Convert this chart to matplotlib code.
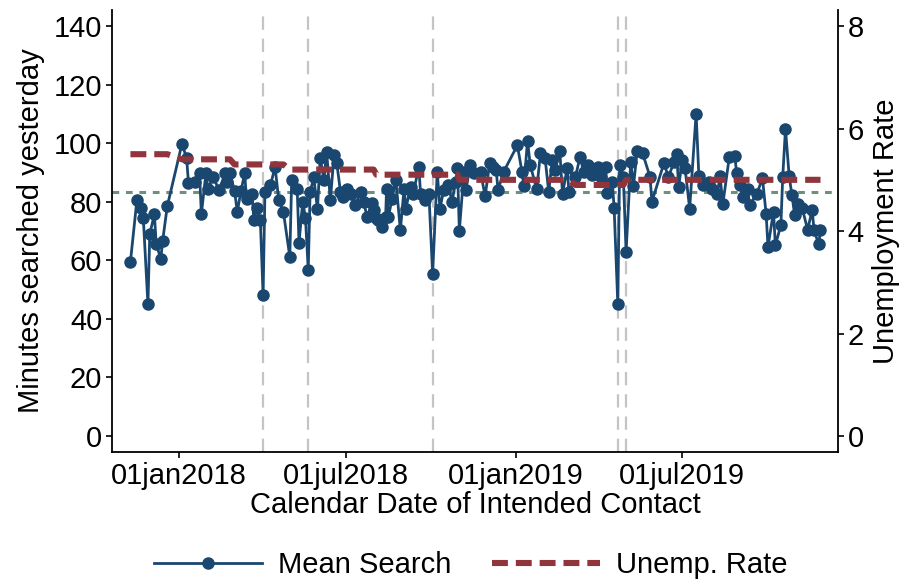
import matplotlib
matplotlib.use("Agg")
import matplotlib.pyplot as plt
import pandas as pd
import numpy as np
from matplotlib.lines import Line2D

plt.rcParams['font.family'] = ['Liberation Sans', 'DejaVu Sans']

# ---- data ----
# days since 01jan2018 of each intended-contact date
search_days = [-53, -46, -42, -39, -34, -32, -27, -25, -20, -18, -13, 3, 8, 10, 17, 22, 24, 29, 31, 37,
               43, 50, 52, 55, 60, 63, 67, 71, 73, 79, 81, 84, 88, 91, 93, 99, 104, 108, 113, 120,
               122, 128, 130, 134, 137, 140, 142, 146, 150, 153, 157, 160, 164, 168, 171, 175, 178, 182, 186, 191,
               197, 200, 204, 209, 211, 214, 216, 220, 224, 225, 227, 231, 235, 240, 244, 246, 251, 254, 260, 262,
               267, 271, 275, 280, 283, 287, 292, 296, 300, 302, 304, 309, 311, 316, 320, 327, 332, 337, 341, 344,
               346, 352, 367, 372, 374, 378, 381, 388, 392, 397, 401, 405, 408, 413, 416, 421, 423, 430, 435, 439,
               444, 448, 454, 458, 463, 464, 470, 472, 476, 478, 482, 485, 490, 493, 497, 503, 511, 513, 526, 531,
               537, 540, 542, 546, 549, 554, 561, 564, 568, 575, 578, 584, 587, 590, 597, 603, 605, 609, 612, 617,
               619, 627, 633, 637, 639, 645, 647, 653, 655, 658, 662, 665, 668, 672, 676, 682, 687, 689, 694, 696]
mean_search = [59.5, 80.5, 78.0, 74.3, 45.0, 69.0, 75.7, 65.5, 60.6, 66.7, 78.5, 99.9, 94.8, 86.5, 86.8, 89.9, 75.8, 89.9, 84.5, 88.5,
               84.0, 89.7, 86.8, 89.7, 83.7, 76.6, 83.7, 89.7, 80.9, 82.8, 73.7, 78.0, 73.7, 48.1, 83.4, 85.7, 91.9, 80.5, 76.6, 61.2,
               87.4, 84.5, 66.0, 80.0, 74.4, 56.7, 83.2, 88.3, 77.4, 95.1, 87.4, 97.0, 80.5, 95.9, 93.1, 83.4, 81.5, 84.5, 82.6, 78.8,
               83.4, 80.0, 74.8, 79.6, 77.1, 74.3, 73.7, 71.4, 74.8, 84.5, 74.8, 81.1, 87.6, 70.3, 84.5, 77.7, 85.1, 82.8, 91.9, 82.6,
               80.5, 82.6, 55.3, 90.2, 77.7, 84.0, 85.7, 80.0, 86.8, 91.4, 70.1, 90.2, 84.0, 92.5, 89.7, 90.2, 81.9, 93.3, 91.9, 90.8,
               84.0, 90.2, 99.3, 90.2, 85.3, 100.8, 92.5, 84.2, 96.5, 95.1, 83.4, 94.4, 90.8, 97.4, 82.8, 91.4, 83.4, 88.5, 95.3, 90.2,
               92.5, 89.1, 91.9, 88.3, 91.9, 83.0, 86.8, 78.0, 45.0, 92.4, 88.5, 62.9, 93.6, 85.3, 97.4, 96.5, 88.5, 80.0, 93.1, 88.5,
               93.6, 96.2, 85.1, 94.2, 91.4, 77.7, 110.1, 88.7, 85.7, 86.8, 84.5, 82.8, 88.7, 79.2, 95.3, 95.6, 89.7, 85.7, 81.5, 84.5,
               78.8, 82.8, 88.0, 75.8, 64.6, 76.6, 65.2, 72.0, 88.5, 104.9, 88.7, 82.3, 75.4, 79.4, 78.0, 70.5, 77.1, 70.3, 65.5, 70.3]

unemp_months = ['2017-11', '2017-12', '2018-01', '2018-02', '2018-03', '2018-04', '2018-05', '2018-06',
                '2018-07', '2018-08', '2018-09', '2018-10', '2018-11', '2018-12', '2019-01', '2019-02',
                '2019-03', '2019-04', '2019-05', '2019-06', '2019-07', '2019-08', '2019-09', '2019-10', '2019-11']
unemp_rate = [5.5, 5.5, 5.4, 5.4, 5.3, 5.3, 5.2, 5.2, 5.2, 5.1, 5.1, 5.1, 5.0, 5.0, 5.0, 5.0,
              4.9, 4.9, 5.0, 5.0, 5.0, 5.0, 5.0, 5.0, 5.0]

mean_overall = 83.3
holiday_dates = ['2018-04-02', '2018-05-21', '2018-10-03', '2019-04-22', '2019-05-01']
xtick_dates = ['2018-01-01', '2018-07-01', '2019-01-01', '2019-07-01']
xtick_labels = ['01jan2018', '01jul2018', '01jan2019', '01jul2019']

# ---- prep ----
base = pd.Timestamp('2018-01-01')
dates = base + pd.to_timedelta(search_days, unit='D')
month_map = dict(zip(unemp_months, unemp_rate))
unemp_series = [month_map.get(d.strftime('%Y-%m'), np.nan) for d in dates]

BLUE = '#1a476f'
RED = '#90353b'
GREEN = '#6f8f7f'
GRAY = '#c4c4c4'
FS = 21
MS = 8

fig = plt.figure(figsize=(9.01, 5.83), dpi=100)
ax = fig.add_axes([112 / 901, 1 - 452 / 583, (838 - 112) / 901, (452 - 10) / 583])
ax2 = ax.twinx()
ax.set_zorder(ax2.get_zorder() + 1)
ax.patch.set_visible(False)

for h in holiday_dates:
    ax.axvline(pd.Timestamp(h), color=GRAY, lw=1.6, linestyle=(0, (6, 4)), zorder=1)

ax.axhline(mean_overall, color=GREEN, lw=2.2, linestyle=(0, (2.2, 2.2)), zorder=2)

ax.plot(dates, mean_search, color=BLUE, lw=2.0, marker='o', markersize=MS,
        markeredgecolor=BLUE, markerfacecolor=BLUE, zorder=3)

ax.plot(dates, np.array(unemp_series) * 17.5, color=RED, lw=4.4,
        linestyle=(0, (2.6, 1.3)), zorder=4)

ax.set_xlim(pd.Timestamp('2017-10-20'), pd.Timestamp('2019-12-17'))
ax.set_ylim(-5.46, 145.5)
ax2.set_ylim(-5.46 / 17.5, 145.5 / 17.5)

ax.set_yticks([0, 20, 40, 60, 80, 100, 120, 140])
ax2.set_yticks([0, 2, 4, 6, 8])
ax.set_xticks([pd.Timestamp(d) for d in xtick_dates])
ax.set_xticklabels(xtick_labels)

for a in (ax, ax2):
    a.spines['top'].set_visible(False)
    a.tick_params(labelsize=FS, length=4, width=1.2, colors='black', pad=3)
    for s in a.spines.values():
        s.set_linewidth(1.3)
ax.spines['right'].set_visible(False)
ax2.spines['left'].set_visible(False)
ax2.spines['bottom'].set_visible(False)

ax.set_ylabel('Minutes searched yesterday', fontsize=FS, labelpad=6)
ax2.set_ylabel('Unemployment Rate', fontsize=FS, labelpad=6)
ax.set_xlabel('Calendar Date of Intended Contact', fontsize=FS, labelpad=1)

h_blue = Line2D([0], [0], color=BLUE, lw=2.0, marker='o', markersize=MS)
h_red = Line2D([0], [0], color=RED, lw=4.4, linestyle=(0, (2.6, 1.3)))
fig.legend([h_blue, h_red], ['Mean Search', 'Unemp. Rate'], loc='center',
           bbox_to_anchor=(471 / 901, 1 - 565 / 583), ncol=2, frameon=False, fontsize=FS,
           handlelength=3.7, columnspacing=1.4, handletextpad=0.55, numpoints=1)

fig.savefig('out.png', dpi=100)
